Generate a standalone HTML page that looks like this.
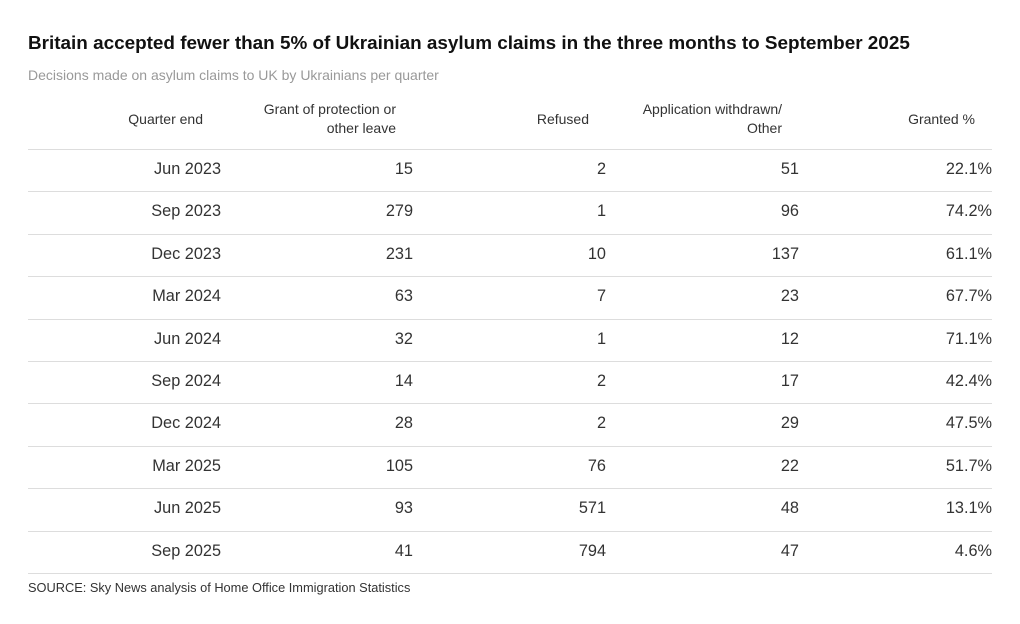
<!DOCTYPE html>
<html><head><meta charset="utf-8"><style>
body{margin:0;background:#fff;font-family:"Liberation Sans",sans-serif;color:#222;width:1020px;height:624px;overflow:hidden;position:relative}
.t{position:absolute;left:28px;top:33px;font-size:18.9px;font-weight:bold;color:#111;letter-spacing:0}
.s{position:absolute;left:28px;top:67px;font-size:14px;color:#999}
.h{position:absolute;top:100px;font-size:14px;color:#333;text-align:right;line-height:19px;height:38px;display:flex;align-items:center;justify-content:flex-end}
.r{position:absolute;left:28px;width:964px;height:42.4px;border-top:1px solid #ddd;font-size:16.3px;color:#333}
.r span{position:absolute;top:10px;text-align:right;width:190px}
.src{position:absolute;left:28px;top:580px;font-size:12.8px;color:#333}
</style></head><body>
<div class="t">Britain accepted fewer than 5% of Ukrainian asylum claims in the three months to September 2025</div>
<div class="s">Decisions made on asylum claims to UK by Ukrainians per quarter</div>
<div class="h" style="left:13px;width:190px">Quarter end</div>
<div class="h" style="left:206px;width:190px">Grant of protection or<br>other leave</div>
<div class="h" style="left:399px;width:190px">Refused</div>
<div class="h" style="left:592px;width:190px">Application withdrawn/<br>Other</div>
<div class="h" style="left:785px;width:190px">Granted %</div>
<div id="rows"></div>
<div class="r" style="top:573px;height:0"></div>
<div class="src">SOURCE: Sky News analysis of Home Office Immigration Statistics</div>
<script>
var d=[["Jun 2023",15,2,51,"22.1%"],["Sep 2023",279,1,96,"74.2%"],["Dec 2023",231,10,137,"61.1%"],["Mar 2024",63,7,23,"67.7%"],["Jun 2024",32,1,12,"71.1%"],["Sep 2024",14,2,17,"42.4%"],["Dec 2024",28,2,29,"47.5%"],["Mar 2025",105,76,22,"51.7%"],["Jun 2025",93,571,48,"13.1%"],["Sep 2025",41,794,47,"4.6%"]];
var h="";var rs=[221,413,606,799,992];
d.forEach(function(r,i){h+='<div class="r" style="top:'+(149+i*42.4)+'px">';r.forEach(function(c,j){h+='<span style="left:'+(rs[j]-28-190)+'px">'+c+'</span>'});h+='</div>'});
document.getElementById("rows").innerHTML=h;
</script>
</body></html>
